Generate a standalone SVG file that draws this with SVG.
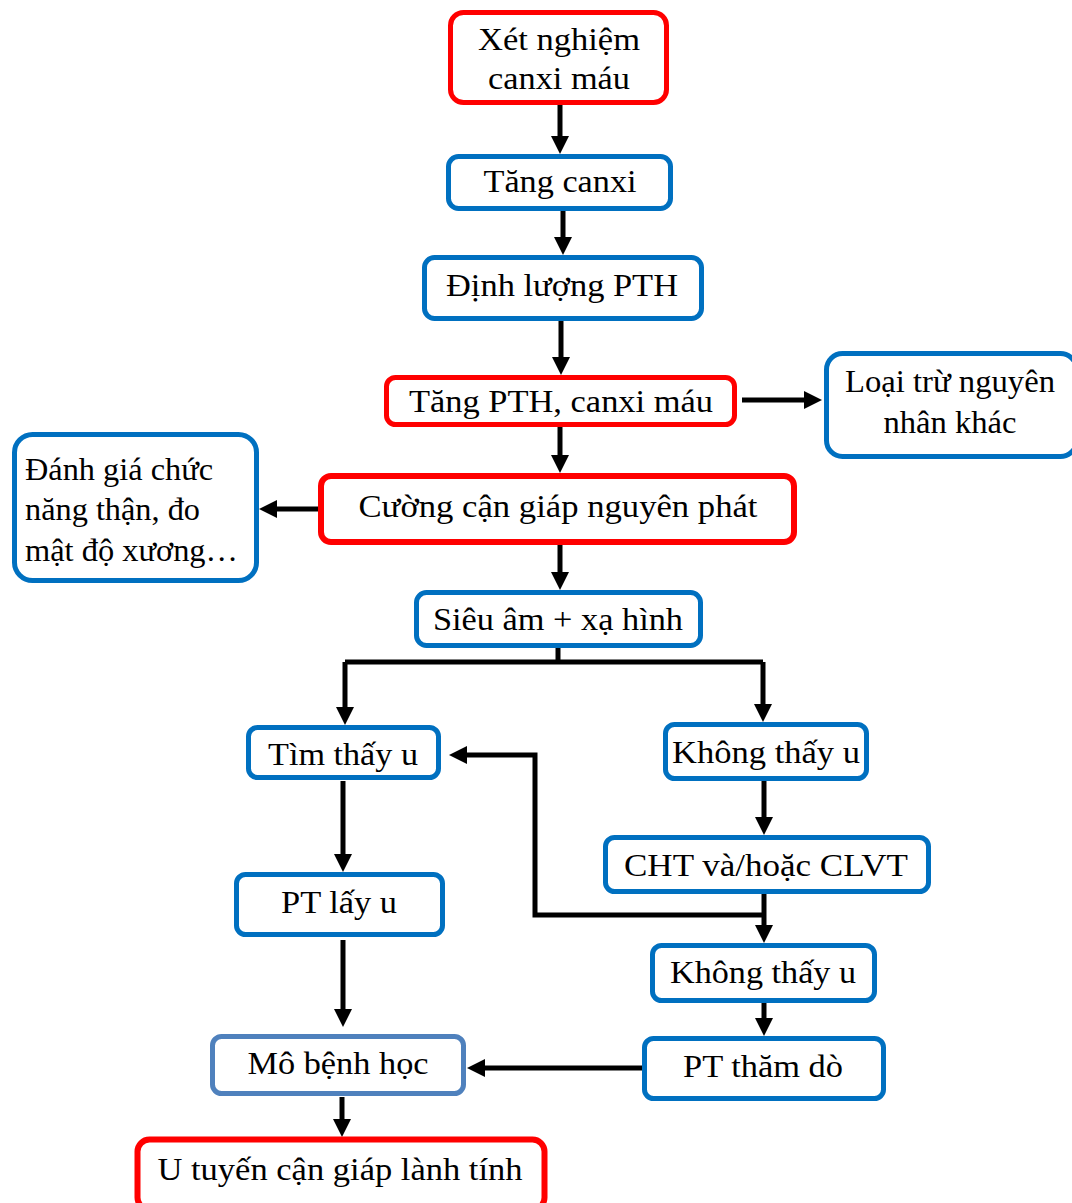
<svg xmlns="http://www.w3.org/2000/svg" width="1072" height="1203" viewBox="0 0 1072 1203">
<style>
.box{fill:#fff;stroke-width:5}
.red{stroke:#ff0000}
.blue{stroke:#0070c0}
.steel{stroke:#4f81bd}
text{font-family:"Liberation Serif","Times New Roman",serif;font-size:32px;fill:#000}
.c{text-anchor:middle}
.con{fill:none;stroke:#000;stroke-width:5}
</style>
<defs>
<marker id="ah" markerUnits="userSpaceOnUse" markerWidth="20" markerHeight="18" refX="10" refY="9" orient="auto">
<path d="M0,0 L18,9 L0,18 Z" fill="#000"/>
</marker>
</defs>
<g id="connectors">
<path class="con" d="M560,104 V146" marker-end="url(#ah)"/>
<path class="con" d="M563,210 V247" marker-end="url(#ah)"/>
<path class="con" d="M561,320 V367" marker-end="url(#ah)"/>
<path class="con" d="M742,400 H814" marker-end="url(#ah)"/>
<path class="con" d="M560,426 V465" marker-end="url(#ah)"/>
<path class="con" d="M318,509 H267" marker-end="url(#ah)"/>
<path class="con" d="M560,545 V582" marker-end="url(#ah)"/>
<path class="con" d="M558,647 V662"/>
<path class="con" d="M345,662 H763"/>
<path class="con" d="M345,662 V717" marker-end="url(#ah)"/>
<path class="con" d="M763,662 V714" marker-end="url(#ah)"/>
<path class="con" d="M343,781 V864" marker-end="url(#ah)"/>
<path class="con" d="M764,780 V827" marker-end="url(#ah)"/>
<path class="con" d="M764,893 V935" marker-end="url(#ah)"/>
<path class="con" d="M764,915 H535 V755 H457" marker-end="url(#ah)"/>
<path class="con" d="M343,940 V1019" marker-end="url(#ah)"/>
<path class="con" d="M764,1002 V1028" marker-end="url(#ah)"/>
<path class="con" d="M642,1068 H475" marker-end="url(#ah)"/>
<path class="con" d="M342,1097 V1129" marker-end="url(#ah)"/>
</g>
<g id="n1"><rect class="box red" x="450.5" y="12.5" width="216" height="90" rx="13"/>
<text class="c" x="559" y="50" textLength="162" lengthAdjust="spacingAndGlyphs">Xét nghiệm</text>
<text class="c" x="559" y="89" textLength="142" lengthAdjust="spacingAndGlyphs">canxi máu</text></g>
<g id="n2"><rect class="box blue" x="448.5" y="156.5" width="222" height="52" rx="10"/>
<text class="c" x="560" y="192" textLength="153" lengthAdjust="spacingAndGlyphs">Tăng canxi</text></g>
<g id="n3"><rect class="box blue" x="424.5" y="257.5" width="277" height="61" rx="10"/>
<text class="c" x="562" y="296" textLength="232" lengthAdjust="spacingAndGlyphs">Định lượng PTH</text></g>
<g id="n4"><rect class="box red" x="386.5" y="377.5" width="348" height="47" rx="9"/>
<text class="c" x="561" y="412" textLength="304" lengthAdjust="spacingAndGlyphs">Tăng PTH, canxi máu</text></g>
<g id="n5"><rect class="box blue" x="826.5" y="353.5" width="250" height="103" rx="16"/>
<text class="c" x="950" y="392" textLength="210" lengthAdjust="spacingAndGlyphs">Loại trừ nguyên</text>
<text class="c" x="950" y="433" textLength="133" lengthAdjust="spacingAndGlyphs">nhân khác</text></g>
<g id="n6"><rect class="box blue" x="14.5" y="434.5" width="242" height="146" rx="18"/>
<text x="25" y="480" textLength="188" lengthAdjust="spacingAndGlyphs">Đánh giá chức</text>
<text x="25" y="520" textLength="175" lengthAdjust="spacingAndGlyphs">năng thận, đo</text>
<text x="25" y="561" textLength="213" lengthAdjust="spacingAndGlyphs">mật độ xương…</text></g>
<g id="n7"><rect class="box red" x="321" y="476" width="473" height="66" rx="10" style="stroke-width:6"/>
<text class="c" x="558" y="517" textLength="399" lengthAdjust="spacingAndGlyphs">Cường cận giáp nguyên phát</text></g>
<g id="n8"><rect class="box blue" x="416.5" y="592.5" width="284" height="53" rx="10"/>
<text class="c" x="558" y="630" textLength="250" lengthAdjust="spacingAndGlyphs">Siêu âm + xạ hình</text></g>
<g id="n9"><rect class="box blue" x="248.5" y="727.5" width="190" height="50" rx="9"/>
<text class="c" x="343" y="765" textLength="150" lengthAdjust="spacingAndGlyphs">Tìm thấy u</text></g>
<g id="n10"><rect class="box blue" x="665.5" y="724.5" width="201" height="54" rx="9"/>
<text class="c" x="766" y="763" textLength="188" lengthAdjust="spacingAndGlyphs">Không thấy u</text></g>
<g id="n11"><rect class="box blue" x="605.5" y="837.5" width="323" height="54" rx="9"/>
<text class="c" x="766" y="876" textLength="284" lengthAdjust="spacingAndGlyphs">CHT và/hoặc CLVT</text></g>
<g id="n12"><rect class="box blue" x="236.5" y="874.5" width="206" height="60" rx="9"/>
<text class="c" x="339" y="913" textLength="116" lengthAdjust="spacingAndGlyphs">PT lấy u</text></g>
<g id="n13"><rect class="box blue" x="652.5" y="945.5" width="222" height="55" rx="9"/>
<text class="c" x="763" y="983" textLength="186" lengthAdjust="spacingAndGlyphs">Không thấy u</text></g>
<g id="n14"><rect class="box steel" x="212.5" y="1036.5" width="251" height="57" rx="9"/>
<text class="c" x="338" y="1074" textLength="181" lengthAdjust="spacingAndGlyphs">Mô bệnh học</text></g>
<g id="n15"><rect class="box blue" x="644.5" y="1038.5" width="239" height="60" rx="9"/>
<text class="c" x="763" y="1077" textLength="160" lengthAdjust="spacingAndGlyphs">PT thăm dò</text></g>
<g id="n16"><rect class="box red" x="137.5" y="1139.5" width="407" height="70" rx="12" style="stroke-width:6"/>
<text class="c" x="340" y="1180" textLength="365" lengthAdjust="spacingAndGlyphs">U tuyến cận giáp lành tính</text></g>
</svg>
